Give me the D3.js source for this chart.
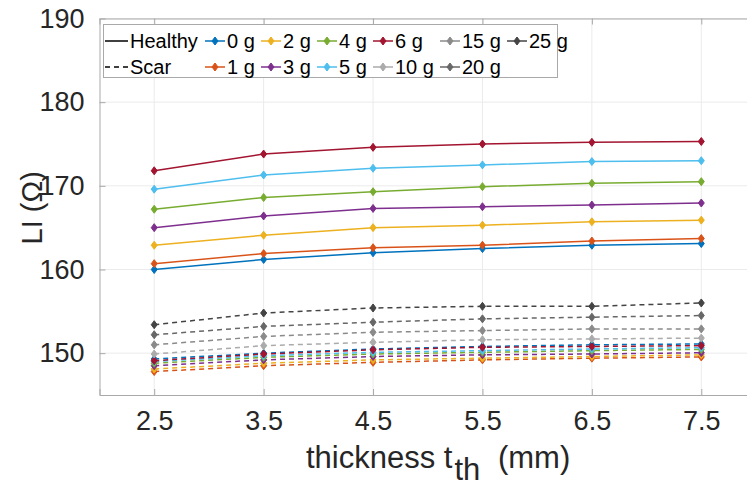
<!DOCTYPE html>
<html>
<head>
<meta charset="utf-8">
<script src="https://cdn.jsdelivr.net/npm/d3@7"></script>
<style>
  html, body { margin: 0; padding: 0; background: #fff; }
  svg { display: block; font-family: "Liberation Sans", Arial, sans-serif; }
</style>
</head>
<body>
<div id="chart"></div>
<script>
// x positions (mm)
const thickness = [2.5, 3.5, 4.5, 5.5, 6.5, 7.5];
const yTicks = [150, 160, 170, 180, 190];

// healthy tissue, solid lines
const healthyLabels = ["0 g", "1 g", "2 g", "3 g", "4 g", "5 g", "6 g"];
const healthyValues = [
  [160.0, 161.2, 162.0, 162.5, 162.9, 163.1],
  [160.7, 161.9, 162.6, 162.9, 163.4, 163.7],
  [162.9, 164.1, 165.0, 165.3, 165.7, 165.9],
  [165.0, 166.4, 167.3, 167.5, 167.7, 167.95],
  [167.2, 168.6, 169.3, 169.9, 170.3, 170.5],
  [169.6, 171.3, 172.1, 172.5, 172.9, 173.0],
  [171.8, 173.8, 174.6, 175.0, 175.2, 175.3],
];

// scar tissue, dashed lines
const scarLabels = ["0 g", "1 g", "2 g", "3 g", "4 g", "5 g", "6 g", "10 g", "15 g", "20 g", "25 g"];
const scarValues = [
  [149.3, 150.0, 150.5, 150.8, 151.0, 151.1],
  [147.8, 148.5, 148.9, 149.2, 149.4, 149.55],
  [148.1, 148.8, 149.2, 149.4, 149.6, 149.8],
  [148.5, 149.2, 149.6, 149.8, 149.9, 150.05],
  [148.8, 149.5, 149.9, 150.1, 150.3, 150.45],
  [149.0, 149.7, 150.1, 150.3, 150.5, 150.65],
  [149.1, 149.9, 150.4, 150.7, 150.8, 150.9],
  [149.9, 150.9, 151.3, 151.6, 151.7, 151.8],
  [151.0, 152.0, 152.5, 152.7, 152.9, 152.9],
  [152.2, 153.2, 153.7, 154.1, 154.3, 154.5],
  [153.4, 154.8, 155.4, 155.6, 155.6, 156.0],
];

const massColors = {
  "0 g": "#0072BD", "1 g": "#D95319", "2 g": "#EDB120", "3 g": "#7E2F8E",
  "4 g": "#77AC30", "5 g": "#4DBEEE", "6 g": "#A2142F",
  "10 g": "#ababab", "15 g": "#8a8a8a", "20 g": "#676767", "25 g": "#444444",
};

// legend order, column by column
const legendColumns = [
  ["Healthy", "Scar"],
  ["0 g", "1 g"], ["2 g", "3 g"], ["4 g", "5 g"],
  ["6 g", "10 g"], ["15 g", "20 g"], ["25 g"],
];

const width = 747, height = 486;
const margin = { left: 99.5, top: 18.5 };
const plotW = 656.5, plotH = 376.5;
const textColor = "#262626";
const axisColor = "#a9a9a9";

const svg = d3.select("#chart").append("svg")
  .attr("width", width)
  .attr("height", height);

const x = d3.scaleLinear().domain([2, 8]).range([margin.left, margin.left + plotW]);
const y = d3.scaleLinear().domain([145, 190]).range([margin.top + plotH, margin.top]);

// grid
const grid = svg.append("g").attr("class", "grid");
grid.selectAll(".gx").data(thickness).join("line")
  .attr("x1", d => x(d)).attr("x2", d => x(d))
  .attr("y1", y(145)).attr("y2", y(190))
  .attr("stroke", "#ebebeb").attr("stroke-width", 1);
grid.selectAll(".gy").data(yTicks).join("line")
  .attr("x1", x(2)).attr("x2", x(8))
  .attr("y1", d => y(d)).attr("y2", d => y(d))
  .attr("stroke", "#ebebeb").attr("stroke-width", 1);

// axes (MATLAB style, ticks inside, box on)
const xAxisB = d3.axisBottom(x).tickValues(thickness).tickSize(-6).tickPadding(16).tickFormat(d3.format(".1f"));
const xAxisT = d3.axisTop(x).tickValues(thickness).tickSize(-6).tickFormat("");
const yAxisL = d3.axisLeft(y).tickValues(yTicks).tickSize(-6).tickPadding(15).tickFormat(d3.format("d"));
const yAxisR = d3.axisRight(y).tickValues(yTicks).tickSize(-6).tickFormat("");

function styleAxis(g) {
  g.select(".domain").attr("stroke", axisColor);
  g.selectAll(".tick line").attr("stroke", axisColor);
  g.selectAll(".tick text").attr("fill", textColor)
    .style("font-size", "27px")
    .style("font-family", "'Liberation Sans', Arial, sans-serif");
}

svg.append("g").attr("transform", `translate(0,${y(145)})`).call(xAxisB).call(styleAxis)
  .selectAll(".tick text").attr("dy", "0.71em");
svg.append("g").attr("transform", `translate(0,${y(190)})`).call(xAxisT).call(styleAxis);
svg.append("g").attr("transform", `translate(${x(2)},0)`).call(yAxisL).call(styleAxis);
svg.append("g").attr("transform", `translate(${x(8)},0)`).call(yAxisR).call(styleAxis);
svg.selectAll(".domain").attr("d", function () {
  return d3.select(this).attr("d").replace(/V-?6|H-?6/g, m => m[0] + "0");
});

// lines + markers
const line = d3.line().x((d, i) => x(thickness[i])).y(d => y(d));
const diamond = "M0,-4L3,0L0,4L-3,0Z";

const series = [];
scarLabels.forEach((lab, i) => series.push({ label: lab, values: scarValues[i], dash: "5,4" }));
healthyLabels.forEach((lab, i) => series.push({ label: lab, values: healthyValues[i], dash: null }));

const plot = svg.append("g").attr("class", "series");
const sg = plot.selectAll(".s").data(series).join("g").attr("class", "s");
sg.append("path")
  .attr("d", d => line(d.values))
  .attr("fill", "none")
  .attr("stroke", d => massColors[d.label])
  .attr("stroke-width", 1.5)
  .attr("stroke-dasharray", d => d.dash);
sg.selectAll(".m").data(d => d.values.map((v, i) => ({ v, i, c: massColors[d.label] })))
  .join("path")
  .attr("d", diamond)
  .attr("transform", d => `translate(${x(thickness[d.i])},${y(d.v)})`)
  .attr("fill", d => d.c)
  .attr("stroke", d => d.c)
  .attr("stroke-width", 1);

// axis labels
svg.append("text")
  .attr("transform", `translate(42,${margin.top + plotH / 2 + 1}) rotate(-90)`)
  .attr("text-anchor", "middle")
  .attr("fill", textColor)
  .style("font-size", "29px")
  .text("LI (Ω)");

const xl = svg.append("text")
  .attr("x", 306).attr("y", 468)
  .attr("text-anchor", "start")
  .attr("fill", textColor)
  .style("font-size", "31px");
xl.append("tspan").text("thickness t");
xl.append("tspan").attr("dy", 12).attr("dx", 2).text("th");
xl.append("tspan").attr("dy", -12).attr("dx", 9).text(" (mm)");

// legend
const legend = svg.append("g").attr("class", "legend");
const colX = [105, 205, 261, 317, 373, 440, 507];
const rowY = [41, 67];
legend.append("rect")
  .attr("x", 103.5).attr("y", 24.5).attr("width", 454).attr("height", 53)
  .attr("fill", "#fff").attr("stroke", "#a9a9a9").attr("stroke-width", 1);

legendColumns.forEach((col, ci) => {
  col.forEach((lab, ri) => {
    const g = legend.append("g").attr("transform", `translate(${colX[ci]},${rowY[ri]})`);
    const isStyle = lab === "Healthy" || lab === "Scar";
    const c = isStyle ? "#000" : massColors[lab];
    g.append("line")
      .attr("x1", 0).attr("x2", isStyle ? 23 : 20)
      .attr("stroke", c).attr("stroke-width", 1.5)
      .attr("stroke-dasharray", lab === "Scar" ? "5,4" : null);
    if (!isStyle) {
      g.append("path").attr("d", diamond).attr("transform", "translate(10,0)")
        .attr("fill", c).attr("stroke", c);
    }
    g.append("text")
      .attr("x", isStyle ? 25 : 22).attr("dy", "0.35em")
      .attr("fill", "#000")
      .style("font-size", "20px")
      .text(lab);
  });
});
</script>
</body>
</html>
